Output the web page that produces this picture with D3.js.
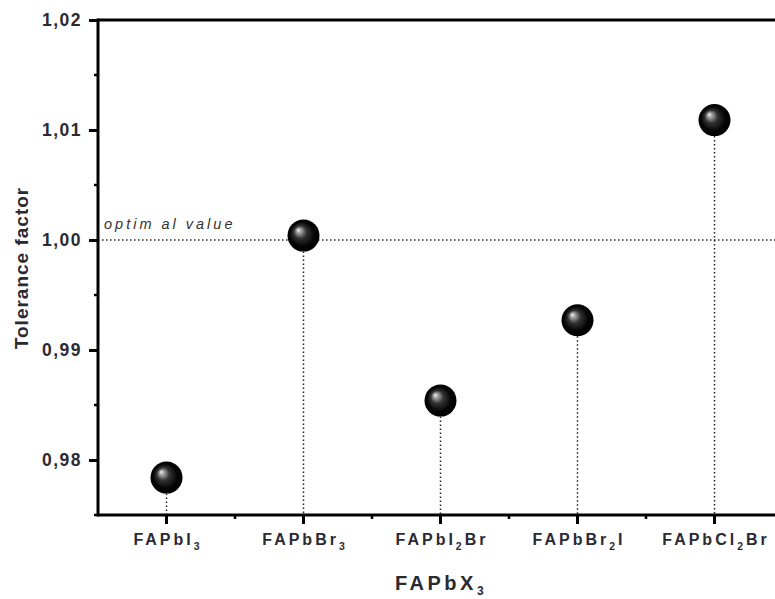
<!DOCTYPE html>
<meta charset="utf-8">
<style>
body { margin: 0; background: #fff; }
svg { display: block; font-family: "Liberation Sans", Arial, sans-serif; }
.tick text { fill: #2a2a33; }
</style>
<svg width="775" height="599"></svg>
<script src="https://cdn.jsdelivr.net/npm/d3@7"></script>
<script>

////////// Data //////////////
// each label split into [text, subscript] pieces
var compounds = ["FAPbI3", "FAPbBr3", "FAPbI2Br", "FAPbBr2I", "FAPbCl2Br"];
var labelParts = [
  [["FAPbI", false], ["3", true]],
  [["FAPbBr", false], ["3", true]],
  [["FAPbI", false], ["2", true], ["Br", false]],
  [["FAPbBr", false], ["2", true], ["I", false]],
  [["FAPbCl", false], ["2", true], ["Br", false]]
];
var tolerance = [0.9784, 1.0004, 0.9854, 0.9927, 1.0109];
var yTicks = [0.98, 0.99, 1.00, 1.01, 1.02];
var yMinorTicks = [0.975, 0.985, 0.995, 1.005, 1.015];
var optimalValue = 1.00;

////////// Layout //////////////
var svg = d3.select("svg"),
    plotLeft = 98, plotTop = 20, plotBottom = 515, step = 137;

var x = d3.scaleBand()
    .domain(compounds)
    .range([plotLeft, plotLeft + step * compounds.length])
    .padding(0);

var y = d3.scaleLinear()
    .domain([0.975, 1.02])
    .range([plotBottom, plotTop]);

var fmt = function(d) { return d3.format(".2f")(d).replace(".", ","); };
var cx = function(d, i) { return x(compounds[i]) + x.bandwidth() / 2; };

// gradient for the balls
var defs = svg.append("defs");
var grad = defs.append("radialGradient")
    .attr("id", "ball")
    .attr("cx", "0.5").attr("cy", "0.5").attr("r", "0.5")
    .attr("fx", "0.33").attr("fy", "0.32");
grad.append("stop").attr("offset", "0%").attr("stop-color", "#f4f4f4");
grad.append("stop").attr("offset", "12%").attr("stop-color", "#b0b0b0");
grad.append("stop").attr("offset", "40%").attr("stop-color", "#333");
grad.append("stop").attr("offset", "75%").attr("stop-color", "#050505");
grad.append("stop").attr("offset", "100%").attr("stop-color", "#000");

// optimal value line
svg.append("line")
    .attr("x1", plotLeft).attr("x2", 775)
    .attr("y1", y(optimalValue)).attr("y2", y(optimalValue))
    .attr("stroke", "#222")
    .attr("stroke-width", 1.5)
    .attr("stroke-dasharray", "1.5,2.5");

svg.append("text")
    .attr("x", 104)
    .attr("y", y(optimalValue) - 11)
    .attr("font-size", 14.5)
    .attr("font-style", "italic")
    .attr("letter-spacing", "3px")
    .attr("fill", "#333")
    .text("optim al value");

// drop lines
svg.selectAll(".drop")
    .data(tolerance)
    .enter().append("line")
      .attr("class", "drop")
      .attr("x1", cx)
      .attr("x2", cx)
      .attr("y1", function(d) { return y(d); })
      .attr("y2", plotBottom)
      .attr("stroke", "#222")
      .attr("stroke-width", 1.5)
      .attr("stroke-dasharray", "1.5,2.5");

// axes
var xAxis = svg.append("g")
    .attr("transform", "translate(0," + plotBottom + ")")
    .call(d3.axisBottom(x).tickSize(9).tickSizeOuter(0).tickFormat(""));
xAxis.select(".domain").remove();
xAxis.selectAll(".tick line").attr("stroke", "#000").attr("stroke-width", 3);

// x minor ticks
svg.selectAll(".xminor")
    .data(compounds.slice(1))
    .enter().append("line")
      .attr("x1", function(d) { return x(d); })
      .attr("x2", function(d) { return x(d); })
      .attr("y1", plotBottom).attr("y2", plotBottom + 4)
      .attr("stroke", "#000").attr("stroke-width", 2.5);

// x tick labels with subscripts
var xl = svg.selectAll(".xlab")
    .data(labelParts)
    .enter().append("text")
      .attr("class", "xlab")
      .attr("x", function(d, i) { return cx(d, i) + 1.5; })
      .attr("y", 545)
      .attr("text-anchor", "middle")
      .attr("font-size", 16)
      .attr("font-weight", "bold")
      .attr("letter-spacing", "3px")
      .attr("fill", "#2a2a33");
xl.each(function(parts) {
  var t = d3.select(this);
  parts.forEach(function(p, k) {
    var prevSub = k > 0 && parts[k - 1][1];
    var s = t.append("tspan").text(p[0]);
    if (p[1]) s.attr("font-size", 10.5).attr("dy", 5);
    else if (prevSub) s.attr("dy", -5);
  });
});

var yAxis = svg.append("g")
    .attr("transform", "translate(" + plotLeft + ",0)")
    .call(d3.axisLeft(y).tickValues(yTicks).tickSize(9).tickSizeOuter(0).tickFormat(fmt));
yAxis.select(".domain").remove();
yAxis.selectAll(".tick line").attr("stroke", "#000").attr("stroke-width", 3);
yAxis.selectAll(".tick text")
    .attr("font-size", 17.5)
    .attr("font-weight", "bold")
    .attr("letter-spacing", "1.5px")
    .attr("x", -16);

svg.selectAll(".yminor")
    .data(yMinorTicks)
    .enter().append("line")
      .attr("x1", plotLeft - 4).attr("x2", plotLeft)
      .attr("y1", function(d) { return y(d); })
      .attr("y2", function(d) { return y(d); })
      .attr("stroke", "#000").attr("stroke-width", 2.5);

// frame lines: left, bottom, top
svg.append("line").attr("x1", plotLeft).attr("x2", plotLeft).attr("y1", plotTop - 1.5).attr("y2", plotBottom + 1.5)
    .attr("stroke", "#000").attr("stroke-width", 3);
svg.append("line").attr("x1", plotLeft).attr("x2", 775).attr("y1", plotBottom).attr("y2", plotBottom)
    .attr("stroke", "#000").attr("stroke-width", 3);
svg.append("line").attr("x1", plotLeft).attr("x2", 775).attr("y1", plotTop).attr("y2", plotTop)
    .attr("stroke", "#000").attr("stroke-width", 3);

// balls
svg.selectAll(".ball")
    .data(tolerance)
    .enter().append("circle")
      .attr("class", "ball")
      .attr("cx", cx)
      .attr("cy", function(d) { return y(d); })
      .attr("r", 16)
      .attr("fill", "url(#ball)");

// axis titles
svg.append("text")
    .attr("transform", "translate(28,268) rotate(-90)")
    .attr("text-anchor", "middle")
    .attr("font-size", 19)
    .attr("font-weight", "bold")
    .attr("letter-spacing", "1px")
    .attr("fill", "#2a2a33")
    .text("Tolerance factor");

var xt = svg.append("text")
    .attr("x", 441)
    .attr("y", 590)
    .attr("text-anchor", "middle")
    .attr("font-size", 20)
    .attr("font-weight", "bold")
    .attr("letter-spacing", "3.5px")
    .attr("fill", "#2a2a33");
xt.append("tspan").text("FAPbX");
xt.append("tspan").attr("font-size", 12).attr("dy", 5).text("3");

</script>
